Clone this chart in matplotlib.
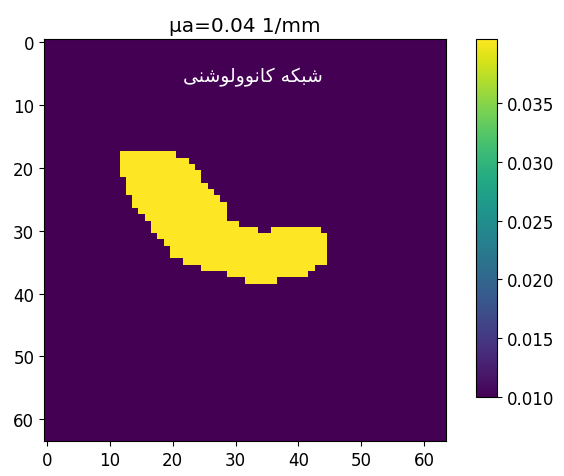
import numpy as np
import matplotlib
matplotlib.use("Agg")
import matplotlib.pyplot as plt

# --- data ---
grid_size = 64
background_mua = 0.01
inclusion_mua = 0.0405

# inclusion rows: (row, first col, last col) spans filled with inclusion_mua
inclusion_rows = [18, 19, 20, 21, 22, 23, 24, 25, 26, 27, 28, 29, 30, 30, 31, 32, 33, 34, 35, 36, 37, 38]
inclusion_start = [12, 12, 12, 12, 13, 13, 13, 14, 14, 15, 16, 17, 17, 36, 18, 19, 20, 20, 22, 25, 29, 32]
inclusion_end = [20, 22, 23, 24, 24, 25, 26, 27, 28, 28, 28, 30, 33, 43, 44, 44, 44, 44, 44, 42, 41, 36]

cbar_ticks = [0.010, 0.015, 0.020, 0.025, 0.030, 0.035]
title_text = "\u03bca=0.04 1/mm"
# "شبکه کانوولوشنی" in shaped presentation forms (logical order), reversed for display
label_logical = ["\ufeb7", "\ufe92", "\ufb91", "\ufeea", " ",
                 "\ufb90", "\ufe8e", "\ufee7", "\ufeee", "\ufeed",
                 "\ufedf", "\ufeee", "\ufeb7", "\ufee8", "\ufbfd"]
label_text = "".join(reversed(label_logical))

img = np.full((grid_size, grid_size), background_mua)
for r, c0, c1 in zip(inclusion_rows, inclusion_start, inclusion_end):
    img[r, c0:c1 + 1] = inclusion_mua

plt.rcParams['font.size'] = 12
fig = plt.figure(figsize=(5.64, 4.77), dpi=100)
ax = fig.add_axes([0.078, 0.069, 0.713, 0.851])
im = ax.imshow(img, cmap='viridis')
ax.set_title(title_text, fontsize=14.4)
ax.set_xticks(range(0, 61, 10))
ax.set_yticks(range(0, 61, 10))
ax.text(32.8, 5.5, label_text, color='white', ha='center', va='center',
        fontsize=13.5, family=['DejaVu Sans'])

cax = fig.add_axes([0.844, 0.166, 0.037, 0.751])
cb = fig.colorbar(im, cax=cax)
cb.set_ticks(cbar_ticks)

fig.savefig("out.png", dpi=100)
